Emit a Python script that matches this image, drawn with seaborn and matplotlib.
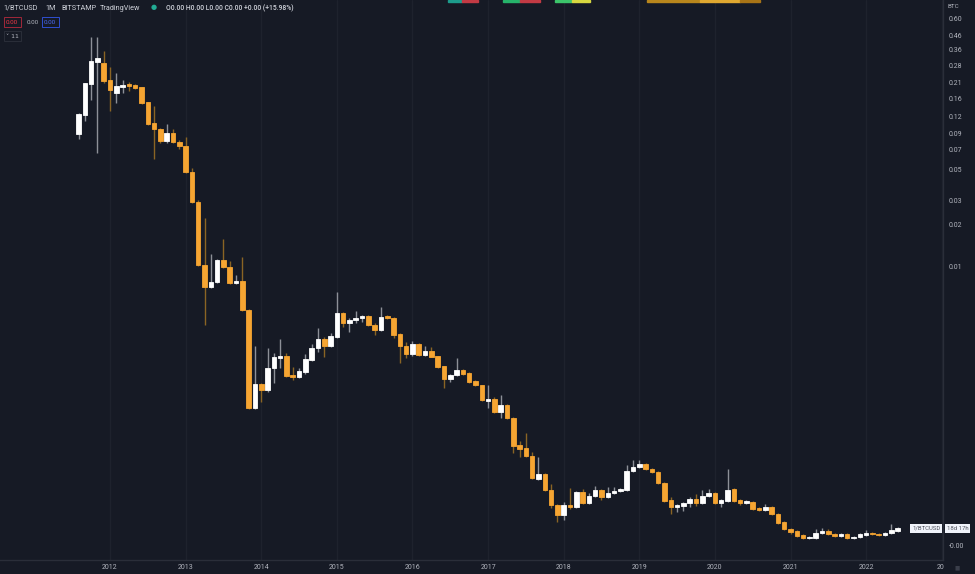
import numpy as np
import pandas as pd
import matplotlib
matplotlib.use("Agg")
import matplotlib.pyplot as plt
from matplotlib.ticker import NullLocator
from matplotlib.patches import Rectangle
import seaborn as sns

# ---------------- data (monthly candles, Aug 2011 - Jun 2022) ----------------
months = pd.date_range("2011-08-01", periods=131, freq="MS")

open_ = [
    0.0899, 0.1229, 0.2050, 0.2948, 0.2900, 0.2190, 0.1767, 0.1951, 0.2050, 0.2017,
    0.1951, 0.1524, 0.1077, 0.0976, 0.0800, 0.0914, 0.0787, 0.0736, 0.0480, 0.0292,
    0.01033, 0.00719, 0.00781, 0.01122, 0.01000, 0.00768, 0.00794, 0.00492, 0.000973, 0.001451,
    0.00131, 0.001884, 0.002226, 0.002300, 0.001685, 0.001630, 0.001771, 0.00215, 0.002629, 0.003051,
    0.002717, 0.003154, 0.004682, 0.003969, 0.00417, 0.004311, 0.004456, 0.003840, 0.00354, 0.004456,
    0.004311, 0.003314, 0.002717, 0.002378, 0.002808, 0.002339, 0.002498, 0.0023, 0.001947, 0.001577,
    0.001685, 0.00183, 0.001742, 0.001525, 0.001427, 0.001092, 0.001129, 0.000913, 0.001022, 0.000827,
    0.000529, 0.000504, 0.000442, 0.000303, 0.000329, 0.000252, 0.000197, 0.000167, 0.000197, 0.000191,
    0.000244, 0.000204, 0.000228, 0.000252, 0.000225, 0.000240, 0.000248, 0.000252, 0.000345, 0.000369,
    0.000388, 0.000357, 0.000340, 0.000283, 0.000214, 0.000191, 0.000194, 0.000204, 0.000217, 0.000204,
    0.000228, 0.000240, 0.000204, 0.000210, 0.000256, 0.000214, 0.000204, 0.000207, 0.000188, 0.000181,
    0.000191, 0.000169, 0.000149, 0.000133, 0.000128, 0.000120, 0.000114, 0.000114, 0.000124, 0.000128,
    0.000122, 0.000118, 0.000122, 0.000114, 0.000116, 0.000120, 0.000124, 0.000122, 0.000120, 0.000124,
    0.000128,
]

high = [
    0.1270, 0.2090, 0.4455, 0.4455, 0.3535, 0.2715, 0.2458, 0.2190, 0.2119, 0.2050,
    0.1951, 0.1524, 0.1427, 0.0992, 0.1060, 0.0976, 0.0813, 0.0855, 0.0513, 0.0302,
    0.02243, 0.01239, 0.01141, 0.01586, 0.01104, 0.00877, 0.01180, 0.00500, 0.002717, 0.001475,
    0.002629, 0.002417, 0.003051, 0.002417, 0.001915, 0.001884, 0.002378, 0.002808, 0.003654, 0.003154,
    0.003369, 0.006618, 0.004760, 0.004311, 0.00484, 0.004530, 0.004530, 0.003969, 0.005167, 0.004530,
    0.004383, 0.003369, 0.002903, 0.002951, 0.002855, 0.002717, 0.002673, 0.0023, 0.001947, 0.001713,
    0.002226, 0.001853, 0.001771, 0.00155, 0.001427, 0.001427, 0.001167, 0.001206, 0.001039, 0.000841,
    0.000566, 0.000646, 0.000472, 0.000435, 0.000334, 0.000278, 0.000200, 0.000207, 0.000260, 0.000248,
    0.000256, 0.000240, 0.000269, 0.000256, 0.000265, 0.000265, 0.000260, 0.000381, 0.000414, 0.000414,
    0.000394, 0.000363, 0.000345, 0.000287, 0.000225, 0.000200, 0.000207, 0.000225, 0.000236, 0.000252,
    0.000256, 0.000244, 0.000217, 0.000357, 0.000260, 0.000217, 0.000214, 0.000210, 0.000191, 0.000200,
    0.000194, 0.000172, 0.000151, 0.000135, 0.000130, 0.000122, 0.000118, 0.000133, 0.000135, 0.000133,
    0.000124, 0.000124, 0.000124, 0.000118, 0.000124, 0.000130, 0.000126, 0.000124, 0.000126, 0.000144,
    0.000137,
]

low = [
    0.0828, 0.1113, 0.1575, 0.0657, 0.2084, 0.1313, 0.1499, 0.1767, 0.1827, 0.1888,
    0.1474, 0.1042, 0.0595, 0.0774, 0.0774, 0.0774, 0.0701, 0.0472, 0.0287, 0.01016,
    0.00384, 0.00707, 0.00768, 0.00983, 0.00755, 0.00755, 0.00484, 0.000957, 0.000957, 0.001074,
    0.001267, 0.001475, 0.001884, 0.001630, 0.00155, 0.001604, 0.001713, 0.002115, 0.002457, 0.002263,
    0.002673, 0.003102, 0.003715, 0.003425, 0.003969, 0.004034, 0.003777, 0.003260, 0.003482, 0.004241,
    0.003102, 0.002046, 0.002226, 0.002300, 0.002300, 0.0023, 0.002263, 0.001884, 0.001358, 0.0015,
    0.001657, 0.001685, 0.001475, 0.001404, 0.001092, 0.000973, 0.000898, 0.000827, 0.000814, 0.000464,
    0.000435, 0.000435, 0.000303, 0.000297, 0.000248, 0.000188, 0.000149, 0.000154, 0.000184, 0.000188,
    0.000200, 0.000200, 0.000225, 0.000214, 0.000221, 0.000236, 0.000244, 0.000248, 0.000340, 0.000363,
    0.000351, 0.000334, 0.000278, 0.000207, 0.000169, 0.000175, 0.000178, 0.000191, 0.000194, 0.000200,
    0.000225, 0.000200, 0.000191, 0.000207, 0.000207, 0.000197, 0.000200, 0.000181, 0.000178, 0.000178,
    0.000167, 0.000144, 0.000130, 0.000122, 0.000116, 0.000112, 0.000112, 0.000112, 0.000122, 0.000120,
    0.000116, 0.000116, 0.000112, 0.000112, 0.000114, 0.000118, 0.000120, 0.000118, 0.000118, 0.000122,
    0.000126,
]

close = [
    0.1250, 0.2084, 0.2997, 0.3149, 0.2154, 0.1857, 0.1984, 0.2017, 0.1984, 0.1919,
    0.1499, 0.1060, 0.0976, 0.0800, 0.0914, 0.0787, 0.0736, 0.0480, 0.0292, 0.01033,
    0.00719, 0.00781, 0.01122, 0.01000, 0.00768, 0.00794, 0.00492, 0.000973, 0.001451, 0.00131,
    0.001884, 0.002263, 0.002300, 0.001657, 0.001630, 0.001800, 0.002189, 0.002629, 0.003051, 0.002717,
    0.003206, 0.004682, 0.003969, 0.00417, 0.004311, 0.004456, 0.003840, 0.00354, 0.004383, 0.004311,
    0.003260, 0.002717, 0.002378, 0.002808, 0.002339, 0.002498, 0.002263, 0.001915, 0.001577, 0.001685,
    0.00183, 0.001713, 0.0015, 0.001427, 0.00111, 0.001129, 0.000913, 0.001022, 0.000827, 0.000521,
    0.000496, 0.000442, 0.000308, 0.000329, 0.000252, 0.000197, 0.000167, 0.000197, 0.000191, 0.000244,
    0.000204, 0.000228, 0.000252, 0.000225, 0.000240, 0.000248, 0.000256, 0.000345, 0.000369, 0.000388,
    0.000357, 0.000340, 0.000283, 0.000210, 0.000191, 0.000197, 0.000204, 0.000217, 0.000204, 0.000228,
    0.000240, 0.000204, 0.000214, 0.000252, 0.000210, 0.000204, 0.000210, 0.000184, 0.000181, 0.000191,
    0.000169, 0.000147, 0.000133, 0.000126, 0.000118, 0.000114, 0.000116, 0.000124, 0.000128, 0.000122,
    0.000118, 0.000122, 0.000114, 0.000116, 0.000122, 0.000124, 0.000122, 0.000120, 0.000124, 0.000130,
    0.000135,
]

year_labels = ["2012", "2013", "2014", "2015", "2016", "2017", "2018",
               "2019", "2020", "2021", "2022"]
price_ticks = [0.60, 0.46, 0.36, 0.28, 0.21, 0.16, 0.12, 0.09, 0.07,
               0.05, 0.03, 0.02, 0.01, 0.0001]
price_tick_labels = ["0.60", "0.46", "0.36", "0.28", "0.21", "0.16", "0.12",
                     "0.09", "0.07", "0.05", "0.03", "0.02", "0.01", "-0.00"]

# ---------------- style ----------------
BG = "#161a25"
UP = "#ffffff"
DOWN = "#f6a532"
UP_WICK = "#8d9098"
DOWN_WICK = "#8a6424"
TXT = "#b2b5be"
LINE = "#2a2e39"

sns.set_theme(style="dark", rc={"axes.facecolor": BG, "figure.facecolor": BG,
                                "savefig.facecolor": BG})
plt.rcParams["font.family"] = ["Roboto", "DejaVu Sans"]

df = pd.DataFrame({"month": months, "open": open_, "high": high,
                   "low": low, "close": close})
df["idx"] = np.arange(len(df))
df["up"] = df["close"] >= df["open"]

W, H = 975, 574
fig = plt.figure(figsize=(W / 100, H / 100), dpi=100)
ax = fig.add_axes([0, 14 / H, 943 / W, 560 / H])
ax.set_facecolor(BG)
ax.set_yscale("log")
ax.set_ylim(7.93e-5, 0.82)
ax.set_xlim(-12.46, 137.2)

# wicks
ax.vlines(df["idx"], df["low"], df["high"],
          colors=np.where(df["up"], UP_WICK, DOWN_WICK), linewidth=1.0, zorder=2)
# bodies
body_lo = np.minimum(df["open"], df["close"])
body_h = np.abs(df["close"] - df["open"])
cols = np.where(df["up"], UP, DOWN)
ax.bar(df["idx"], body_h, bottom=body_lo, width=0.72, color=cols,
       edgecolor=cols, linewidth=0.6, zorder=3)

# x axis: years at January candles
jan_idx = df.index[(df["month"].dt.month == 1)].tolist()
ax.set_xticks(jan_idx + [jan_idx[-1] + 12])
ax.set_xticklabels(year_labels + [""])
ax.tick_params(axis="x", length=0, pad=3.2, labelsize=5, colors=TXT)
ax.grid(axis="x", color="#1e222d", linewidth=0.9)
ax.grid(axis="y", visible=False)

# y axis on the right
ax.yaxis.tick_right()
ax.set_yticks(price_ticks)
ax.set_yticklabels(price_tick_labels)
ax.yaxis.set_minor_locator(NullLocator())
ax.tick_params(axis="y", length=0, pad=4, labelsize=5, colors=TXT)

for s in ["top", "left"]:
    ax.spines[s].set_visible(False)
for s in ["right", "bottom"]:
    ax.spines[s].set_color(LINE)
    ax.spines[s].set_linewidth(1)


def P(x, y):
    return x / W, 1 - y / H


# header
hdr = dict(fontsize=5.2, color="#d1d4dc", va="center", ha="left")
fig.text(*P(3, 8), "1/BTCUSD", **hdr)
fig.text(*P(45, 8), "1M", **hdr)
fig.text(*P(61, 8), "BITSTAMP", **hdr)
fig.text(*P(100, 8), "TradingView", **hdr)
fig.text(*P(151, 8), "\u25CF", fontsize=5, color="#22ab94", va="center", ha="left")
fig.text(*P(166, 8), "O0.00 H0.00 L0.00 C0.00 +0.00 (+15.98%)", fontsize=4.9,
         color="#d1d4dc", va="center", ha="left", fontweight="medium")

fig.text(*P(6, 22), "0.00", fontsize=4.5, color="#f23645", va="center", ha="left",
         bbox=dict(boxstyle="square,pad=0.4", fc=BG, ec="#a1283a", lw=0.7))
fig.text(*P(27, 22), "0.00", fontsize=4.5, color=TXT, va="center", ha="left")
fig.text(*P(44, 22), "0.00", fontsize=4.5, color="#4c6cf5", va="center", ha="left",
         bbox=dict(boxstyle="square,pad=0.4", fc=BG, ec="#2f4fd0", lw=0.7))
fig.text(*P(6, 36), "\u02C5 11", fontsize=4.5, color=TXT, va="center", ha="left",
         family=["DejaVu Sans"],
         bbox=dict(boxstyle="square,pad=0.4", fc=BG, ec=LINE, lw=0.7))

# right axis extras
fig.text(*P(948, 7), "BTC", fontsize=4.5, color=TXT, va="center", ha="left")
fig.text(*P(912, 528.5), "1/BTCUSD", fontsize=4.3, color="#50535e", va="center",
         ha="left", bbox=dict(boxstyle="square,pad=0.3", fc="#f0f3fa", ec="none"))
fig.text(*P(947, 528.5), "18d 17h", fontsize=4.3, color="#50535e", va="center",
         ha="left", bbox=dict(boxstyle="square,pad=0.3", fc="#f0f3fa", ec="none"))
fig.text(*P(937, 567.5), "20", fontsize=5, color=TXT, va="center", ha="left")
fig.text(*P(957, 567.5), "\u25A0", fontsize=4, color="#3a3e4a", va="center", ha="center")

# colored fragments along the top edge
for x0, x1, c in [(448, 462, "#1d9c8c"), (462, 478, "#c23a44"), (503, 520, "#26b36a"),
                  (520, 540, "#c23a44"), (555, 572, "#3cc46a"), (572, 590, "#d8d840"),
                  (647, 700, "#b8861c"), (700, 740, "#e0a830"), (740, 760, "#a87416")]:
    fig.patches.append(Rectangle((x0 / W, 1 - 2 / H), (x1 - x0) / W, 2 / H,
                                 transform=fig.transFigure, color=c, zorder=5))

fig.savefig("out.png", dpi=100, facecolor=BG)
